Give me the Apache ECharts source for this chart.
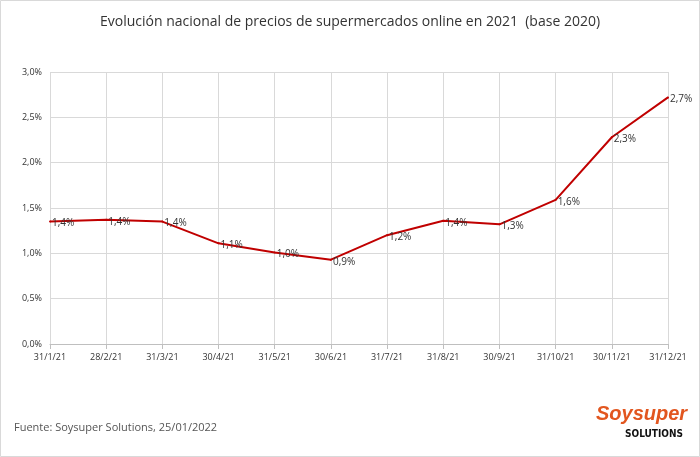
<!DOCTYPE html>
<html><head><meta charset="utf-8">
<script src="https://cdn.jsdelivr.net/npm/echarts@6/dist/echarts.min.js"></script>
<style>html,body{margin:0;padding:0;background:#fff}#c{width:700px;height:457px}</style>
</head><body><div id="c"></div>
<script>
const categories=['31/1/21','28/2/21','31/3/21','30/4/21','31/5/21','30/6/21','31/7/21','31/8/21','30/9/21','31/10/21','30/11/21','31/12/21'];
const values=[1.35,1.37,1.35,1.11,1.01,0.93,1.20,1.36,1.32,1.59,2.28,2.72];
const chart=echarts.init(document.getElementById('c'));
const F='"Open Sans", sans-serif';
chart.setOption({
  animation:false,
  title:{text:'Evolución nacional de precios de supermercados online en 2021  (base 2020)',left:'center',top:10,textStyle:{fontFamily:F,fontSize:14,fontWeight:'normal',color:'#333'}},
  grid:{left:50,right:32,top:72,bottom:113},
  xAxis:{type:'category',data:categories,boundaryGap:false,
    axisLine:{lineStyle:{color:'#bfbfbf'}},axisTick:{show:true,alignWithLabel:true,lineStyle:{color:'#bfbfbf'}},
    axisLabel:{fontFamily:F,fontSize:9,color:'#333',interval:0,margin:9},
    splitLine:{show:true,lineStyle:{color:'#d9d9d9'}}},
  yAxis:{type:'value',min:0,max:3,interval:0.5,
    axisLabel:{fontFamily:F,fontSize:9,color:'#333',formatter:v=>v.toFixed(1).replace('.',',')+'%'},
    axisLine:{show:false},splitLine:{lineStyle:{color:'#d9d9d9'}}},
  series:[{type:'line',data:values,symbol:'circle',symbolSize:2,showSymbol:true,showAllSymbol:true,itemStyle:{color:'#c00000'},lineStyle:{color:'#c00000',width:2},
    label:{show:true,position:'right',distance:1,offset:[0,2],fontFamily:F,fontSize:10,color:'#333',formatter:p=>p.value.toFixed(1).replace('.',',')+'%'}}],
  graphic:[
    {type:'rect',shape:{x:0.5,y:0.5,width:699,height:456},style:{fill:'none',stroke:'#d9d9d9',lineWidth:1}},
    {type:'text',left:14,top:422,style:{text:'Fuente: Soysuper Solutions, 25/01/2022',font:'11px '+F,fill:'#555'}},
    {type:'text',left:596,top:404,style:{text:'Soysuper',font:'italic bold 20px "Liberation Sans Narrow", sans-serif',fill:'#e2561f'}},
    {type:'text',left:625,top:429,style:{text:'SOLUTIONS',font:'bold 10px "DejaVu Sans Condensed", sans-serif',fill:'#111'}}
  ]
});
</script></body></html>
